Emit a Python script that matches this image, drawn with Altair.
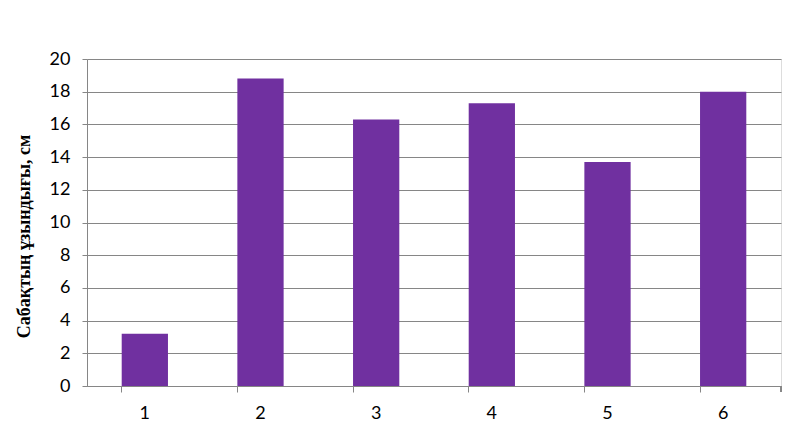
import altair as alt
import pandas as pd

categories = ["1", "2", "3", "4", "5", "6"]
values = [3.2, 18.8, 16.3, 17.3, 13.7, 18.0]
y_ticks = [0, 2, 4, 6, 8, 10, 12, 14, 16, 18, 20]

df = pd.DataFrame({"cat": categories, "val": values})

W, H = 694, 327
GRAY = "#868686"

bars = alt.Chart(df).mark_bar(color="#7030A0").encode(
    x=alt.X("cat:N", sort=categories,
            scale=alt.Scale(paddingInner=0.6, paddingOuter=0.3),
            axis=alt.Axis(title=None, labelAngle=0, bandPosition=0,
                          labelFont="Lato", labelFontSize=18, labelColor="#000000",
                          labelPadding=12, tickColor=GRAY, tickSize=6,
                          domainColor=GRAY, grid=False, labelBound=False)),
    y=alt.Y("val:Q",
            scale=alt.Scale(domain=[0, 20], nice=False),
            axis=alt.Axis(values=y_ticks, title="Сабақтың ұзындығы, см",
                          titleFont="Liberation Serif", titleFontSize=18,
                          titleFontWeight="bold", titleColor="#000000",
                          titleX=-54, titleY=177, titleAngle=270,
                          labelFont="Lato", labelFontSize=18, labelColor="#000000",
                          labelPadding=12, tickColor=GRAY, tickSize=5,
                          domainColor=GRAY, gridColor=GRAY, gridWidth=1)),
)

end_tick = alt.Chart(df).mark_rule(color=GRAY).encode(
    x=alt.value(W), y=alt.value(H), y2=alt.value(H + 6)
)

chart = (bars + end_tick).properties(
    width=W, height=H,
    padding={"left": 79, "top": 51, "right": 17, "bottom": 50},
    autosize="none",
).configure_view(stroke=None).configure(background="#ffffff")

chart.save("out.html", embed_options={"renderer": "svg", "actions": False})
